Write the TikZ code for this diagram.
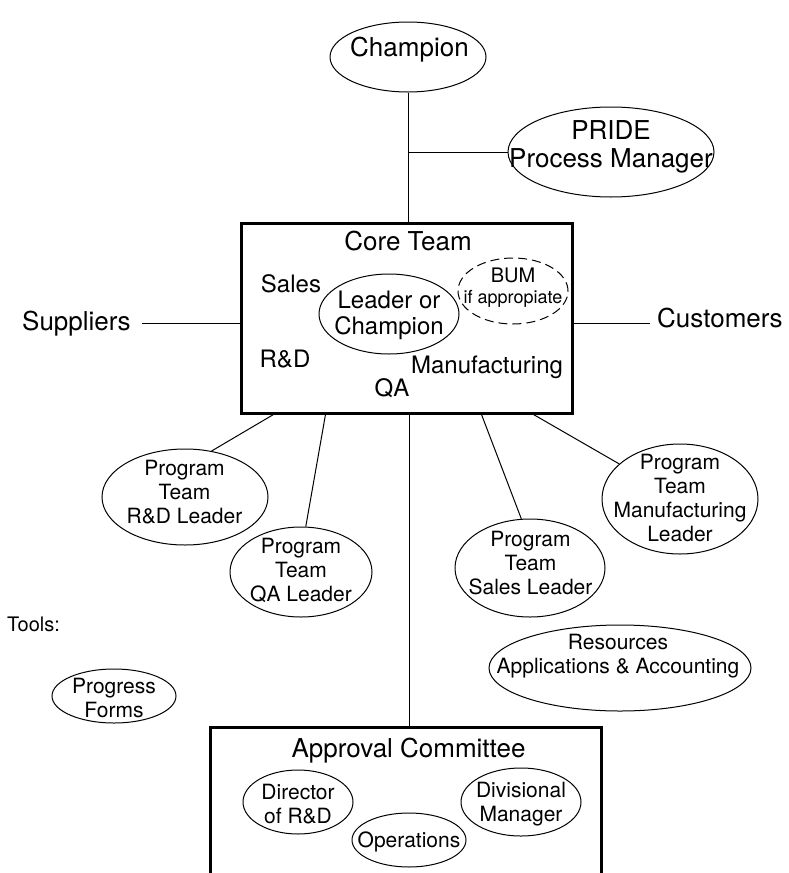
\documentclass[tikz,border=0pt]{standalone}
\usepackage{fontspec}
\setmainfont{TeX Gyre Heros}
\usetikzlibrary{shapes.geometric}
\newcommand\mlines[1]{\vtop{\halign{\hfil##\hfil\cr#1\crcr}}}
\begin{document}
\begin{tikzpicture}[x=1pt,y=-1pt,
  oval/.style={ellipse,draw,line width=1pt,inner sep=0pt},
  dashoval/.style={oval,dash pattern=on 9pt off 5pt},
  box/.style={rectangle,draw,line width=3pt,inner sep=0pt},
  conn/.style={line width=1pt},
  tbig/.style={font=\fontsize{26}{28}\selectfont,inner sep=0pt,anchor=base},
  tmid/.style={font=\fontsize{24}{26}\selectfont,inner sep=0pt,anchor=base},
  tsm/.style={font=\fontsize{21}{24}\selectfont,inner sep=0pt,anchor=base},
  ttools/.style={font=\fontsize{20}{24}\selectfont,inner sep=0pt,anchor=base west},
]
\useasboundingbox (0,0) rectangle (788,873);
\clip (0,0) rectangle (788,873);

% ---- top
\node[oval,minimum width=156pt,minimum height=70pt] (cham) at (408,57) {};
\node[tbig] (chamt) at (409.5,56) {Champion};
\node[oval,minimum width=206pt,minimum height=90pt] (pride) at (611,152) {};
\node[tbig] (pridet) at (611,139) {\fontsize{26}{28}\selectfont\mlines{PRIDE\cr Process Manager}};

% ---- core team
\node[box,minimum width=331pt,minimum height=190pt] (core) at (406.5,318) {};
\node[tbig] (coret) at (408,250) {Core Team};
\node[tmid] (sales) at (291,292) {Sales};
\node[tmid] (rd) at (285,367) {R\&D};
\node[tmid] (mfg) at (487,373) {Manufacturing};
\node[tmid] (qa) at (392,396) {QA};
\node[oval,minimum width=140pt,minimum height=80pt] (lead) at (389,314) {};
\node[tmid] (leadt) at (389,308) {\mlines{Leader or\cr Champion}};
\node[dashoval,minimum width=110pt,minimum height=66pt] (bum) at (513,291) {};
\node[inner sep=0pt,anchor=base,font=\fontsize{20}{22}\selectfont] (bumt) at (513,282) {BUM};
\node[inner sep=0pt,anchor=base,font=\fontsize{18}{20}\selectfont] (bumt2) at (513,303) {if appropiate};

% ---- suppliers / customers
\node[tbig,anchor=base west] (sup) at (22,330) {Suppliers};
\coordinate (supend) at (142,323);
\draw[conn] (supend) -- (supend -| core.west);
\node[tbig,anchor=base west] (cust) at (657,327) {Customers};
\coordinate (custend) at (650,323);
\draw[conn] (custend -| core.east) -- (custend);

% ---- champion links
\draw[conn] (cham.south) -- (cham.south |- core.north);
\coordinate (br) at (cham.south |- pride.west);
\draw[conn] (br) -- (pride.west);

% ---- program teams
\node[oval,minimum width=166pt,minimum height=96pt] (rdl) at (185,497) {};
\node[tsm] (rdlt) at (184.5,475) {\mlines{Program\cr Team\cr R\&D Leader}};
\node[oval,minimum width=142pt,minimum height=90pt] (qal) at (301,572) {};
\node[tsm] (qalt) at (301,553) {\mlines{Program\cr Team\cr QA Leader}};
\node[oval,minimum width=150pt,minimum height=98pt] (sal) at (530,568) {};
\node[tsm] (salt) at (530.5,546) {\mlines{Program\cr Team\cr Sales Leader}};
\node[oval,minimum width=156pt,minimum height=110pt] (mfl) at (680,499) {};
\node[tsm] (mflt) at (680,469) {\mlines{Program\cr Team\cr Manufacturing\cr Leader}};

\draw[conn] ([xshift=34pt]core.south west) -- (rdl.60);
\draw[conn] ([xshift=86pt]core.south west) -- (qal.84);
\draw[conn] ([xshift=242pt]core.south west) -- (sal.100);
\draw[conn] ([xshift=294pt]core.south west) -- (mfl.150);

% ---- resources, tools
\node[oval,minimum width=262pt,minimum height=86pt] (res) at (620,668) {};
\node[tsm] (rest) at (618,649) {\mlines{Resources\cr Applications \& Accounting}};
\node[ttools] (tools) at (7,631) {Tools:};
\node[oval,minimum width=124pt,minimum height=54pt] (prog) at (114,696) {};
\node[tsm] (progt) at (114,693) {\mlines{Progress\cr Forms}};

% ---- approval committee
\node[box,minimum width=391pt,minimum height=220pt] (appr) at (405.5,837) {};
\node[tbig] (apprt) at (408.5,757) {Approval Committee};
\coordinate (vx) at (409,0);
\draw[conn] (core.south -| vx) -- (appr.north -| vx);
\node[oval,minimum width=110pt,minimum height=64pt] (dir) at (298,802) {};
\node[tsm] (dirt) at (298,799) {\mlines{Director\cr of R\&D}};
\node[oval,minimum width=114pt,minimum height=54pt] (ops) at (409,840) {};
\node[tsm] (opst) at (409,847) {Operations};
\node[oval,minimum width=120pt,minimum height=68pt] (div) at (521,802) {};
\node[tsm] (divt) at (521,797) {\mlines{Divisional\cr Manager}};
\end{tikzpicture}
\end{document}
